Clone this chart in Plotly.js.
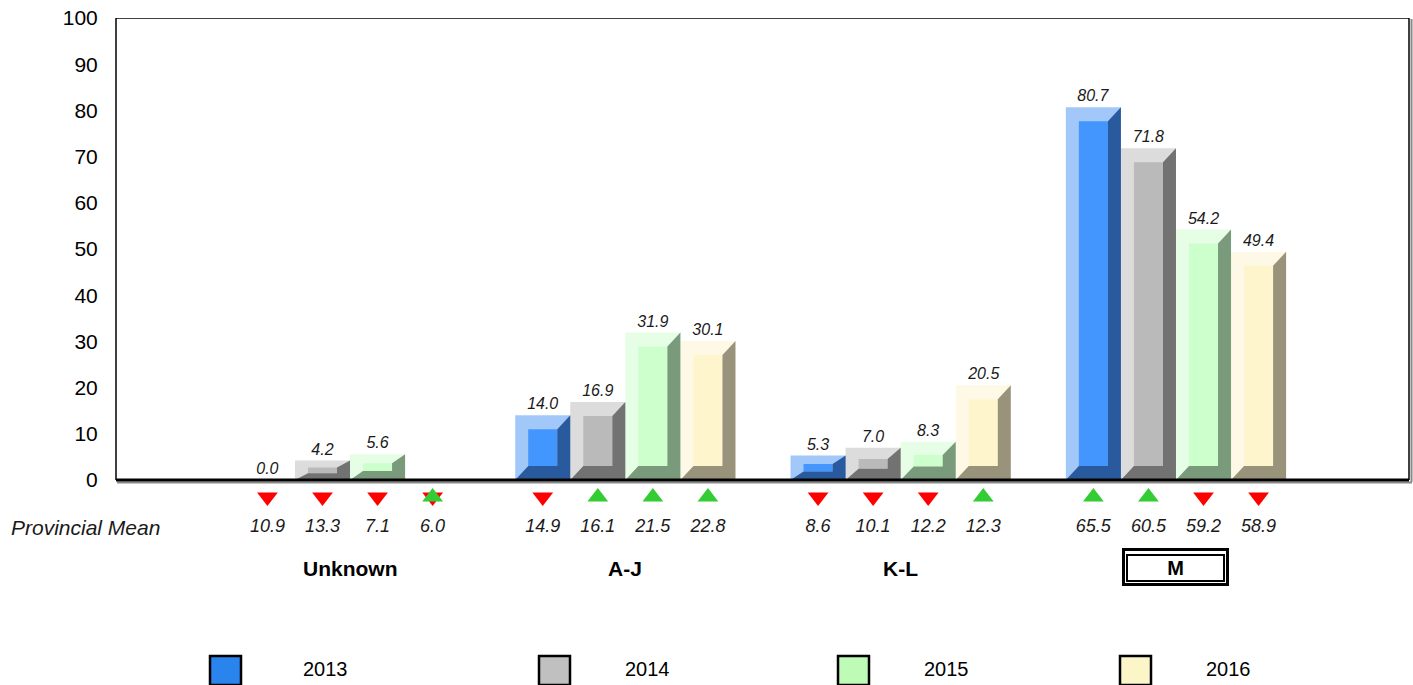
<!DOCTYPE html>
<html>
<head>
<meta charset="utf-8">
<script src="https://cdn.plot.ly/plotly-3.0.1.min.js"></script>
<style>html,body{margin:0;padding:0;background:#fff}#chart{width:1413px;height:685px}</style>
</head>
<body>
<div id="chart"></div>
<script>
// ---------------- DATA ----------------
const categories = ['Unknown', 'A-J', 'K-L', 'M'];
const years = ['2013', '2014', '2015', '2016'];
const v2013 = [0.0, 14.0, 5.3, 80.7];
const v2014 = [4.2, 16.9, 7.0, 71.8];
const v2015 = [5.6, 31.9, 8.3, 54.2];
const v2016 = [null, 30.1, 20.5, 49.4];
const mean2013 = [10.9, 14.9, 8.6, 65.5];
const mean2014 = [13.3, 16.1, 10.1, 60.5];
const mean2015 = [7.1, 21.5, 12.2, 59.2];
const mean2016 = [6.0, 22.8, 12.3, 58.9];
const trend2013 = ['down', 'down', 'down', 'up'];
const trend2014 = ['down', 'up', 'down', 'up'];
const trend2015 = ['down', 'up', 'down', 'down'];
const trend2016 = ['both', 'up', 'up', 'down'];
const yTicks = [0, 10, 20, 30, 40, 50, 60, 70, 80, 90, 100];
const meanLabel = 'Provincial Mean';
const highlighted = 'M';

// ---------------- STYLE ----------------
const values = [v2013, v2014, v2015, v2016];
const means = [mean2013, mean2014, mean2015, mean2016];
const trends = [trend2013, trend2014, trend2015, trend2016];
const outerCol = ['#a2c8fa', '#dcdcdc', '#e6fde6', '#fef9e6'];
const innerCol = ['#4496ff', '#bababa', '#ccffcc', '#fff5cc'];
const darkCol  = ['#2a5a9e', '#727272', '#7a9a7c', '#9a937b'];
const legendCol = ['#2a84ee', '#c0c0c0', '#bdfbb6', '#fbf5c8'];
const FONT = 'Liberation Sans, Arial, sans-serif';

const W = 1413, H = 685;
const L = 116, R = 3, T = 18, B = 0;
const axisPy = 480;                 // pixel row of value 0
const plotW = W - L - R, plotH = H - T - B;
const pxPerY = (axisPy - T) / 100;
const yRange = [-(H - B - axisPy) / pxPerY, 100];
const xRange = [-0.85, 3.85];
const pxPerX = plotW / (xRange[1] - xRange[0]);
const px2x = px => (px - L) / plotW;            // paper x
const dataY = py => (axisPy - py) / pxPerY;     // data y
const slot = 0.2;
const bx = 13 / pxPerX;
const byMax = 14 / pxPerY;
const centerOf = (s, i) => i + (s - 1.5) * slot;

const traces = [];
// base bars (outer light bevel face)
years.forEach((yr, s) => {
  traces.push({
    type: 'bar', name: yr, x: categories.map((c, i) => i), y: values[s],
    marker: {color: outerCol[s], line: {width: 0}},
    texttemplate: '%{y:.1f}', textposition: 'outside', cliponaxis: false,
    textfont: {family: FONT, size: 16, color: '#1a1a1a', style: 'italic'},
    hoverinfo: 'skip', showlegend: false
  });
});
// bevel polygons
years.forEach((yr, s) => {
  const ix = [], iy = [], dx = [], dy = [];
  values[s].forEach((v, i) => {
    if (v == null || v <= 0) return;
    const c = centerOf(s, i), l = c - slot / 2, r = c + slot / 2;
    const by = Math.min(byMax, v * 0.35);
    if (v - by > by) {
      ix.push(l + bx, r - bx, r - bx, l + bx, l + bx, null);
      iy.push(by, by, v - by, v - by, by, null);
    }
    dx.push(l, r, r, r - bx, r - bx, l + bx, l, null);
    dy.push(0, 0, v, v - by, by, by, 0, null);
  });
  traces.push({type: 'scatter', mode: 'lines', x: ix, y: iy, fill: 'toself', fillcolor: innerCol[s],
    line: {width: 0, color: innerCol[s]}, hoverinfo: 'skip', showlegend: false});
  traces.push({type: 'scatter', mode: 'lines', x: dx, y: dy, fill: 'toself', fillcolor: darkCol[s],
    line: {width: 0, color: darkCol[s]}, hoverinfo: 'skip', showlegend: false});
});
// trend triangles & mean values
const triY = dataY(497), meanY = dataY(527);
const downX = [], upX = [], mx = [], mt = [];
years.forEach((yr, s) => {
  categories.forEach((c, i) => {
    const t = trends[s][i], xc = centerOf(s, i);
    if (t === 'down' || t === 'both') downX.push(xc);
    if (t === 'up' || t === 'both') upX.push(xc);
    mx.push(xc); mt.push(means[s][i].toFixed(1));
  });
});
traces.push({type: 'scatter', mode: 'markers', x: downX, y: downX.map(() => triY),
  marker: {symbol: 'triangle-down', size: 18, color: '#ff0000', line: {width: 0}}, hoverinfo: 'skip', showlegend: false});
traces.push({type: 'scatter', mode: 'markers', x: upX, y: upX.map(() => triY),
  marker: {symbol: 'triangle-up', size: 18, color: '#33cc33', line: {width: 0}}, hoverinfo: 'skip', showlegend: false});
traces.push({type: 'scatter', mode: 'text', x: mx, y: mx.map(() => meanY), text: mt,
  textfont: {family: FONT, size: 18, color: '#1a1a1a', style: 'italic'}, hoverinfo: 'skip', showlegend: false});

// annotations & shapes
const annotations = [];
const shapes = [];
annotations.push({xref: 'paper', yref: 'y', x: px2x(9), y: meanY, xanchor: 'left', yanchor: 'middle',
  text: meanLabel, showarrow: false, font: {family: FONT, size: 21, color: '#1a1a1a', style: 'italic'}});
categories.forEach((c, i) => {
  const a = {xref: 'x', yref: 'y', x: i, y: dataY(568), xanchor: 'center', yanchor: 'middle',
    text: '<b>' + c + '</b>', showarrow: false, font: {family: FONT, size: 21, color: '#000'}};
  if (c === highlighted) {
    annotations.push({xref: 'x', yref: 'y', x: i, y: dataY(567), xanchor: 'center', yanchor: 'middle',
      text: ' ', showarrow: false, width: 101, height: 32, borderwidth: 3, bordercolor: '#000', borderpad: 0});
    a.width = 95; a.height = 24; a.borderwidth = 2; a.bordercolor = '#000'; a.borderpad = 0;
    a.font = {family: FONT, size: 20, color: '#000'};
  }
  annotations.push(a);
});
// legend
const legSqX = [210, 539, 838, 1120];
const legTxtX = [325, 647, 946, 1228];
years.forEach((yr, s) => {
  shapes.push({type: 'rect', xref: 'paper', yref: 'y', x0: px2x(legSqX[s]), x1: px2x(legSqX[s] + 31),
    y0: dataY(685), y1: dataY(656), fillcolor: legendCol[s], line: {color: '#000', width: 2.5}});
  annotations.push({xref: 'paper', yref: 'y', x: px2x(legTxtX[s]), y: dataY(669), xanchor: 'center', yanchor: 'middle',
    text: yr, showarrow: false, font: {family: FONT, size: 20, color: '#000'}});
});
// plot frame
const xEnd = px2x(1409);
shapes.push({type: 'line', xref: 'paper', yref: 'y', x0: 0, x1: xEnd, y0: 100, y1: 100, line: {color: '#000', width: 1.5}});
shapes.push({type: 'line', xref: 'paper', yref: 'y', x0: px2x(1411.5), x1: px2x(1411.5), y0: dataY(482), y1: dataY(19), line: {color: '#888', width: 2}});
shapes.push({type: 'line', xref: 'paper', yref: 'y', x0: xEnd, x1: xEnd, y0: 0, y1: 100, line: {color: '#000', width: 1.5}});
shapes.push({type: 'line', xref: 'paper', yref: 'y', x0: px2x(117), x1: px2x(1412), y0: dataY(482.5), y1: dataY(482.5), line: {color: '#888', width: 2}});
shapes.push({type: 'line', xref: 'paper', yref: 'y', x0: 0, x1: xEnd, y0: 0, y1: 0, line: {color: '#000', width: 3}});
shapes.push({type: 'line', xref: 'paper', yref: 'y', x0: 0, x1: 0, y0: 0, y1: 100, line: {color: '#000', width: 1.5}});

const layout = {
  width: W, height: H,
  margin: {l: L, r: R, t: T, b: B, pad: 0},
  paper_bgcolor: '#fff', plot_bgcolor: '#fff',
  barmode: 'group', bargap: 0.2, bargroupgap: 0,
  showlegend: false,
  font: {family: FONT, color: '#000'},
  xaxis: {range: xRange, showticklabels: false, ticks: '', showgrid: false, zeroline: false,
    showline: false, fixedrange: true},
  yaxis: {range: yRange, tickvals: yTicks, ticktext: yTicks.map(String), showgrid: false, zeroline: false,
    showline: false, ticks: 'outside', ticklen: 13, tickcolor: 'rgba(0,0,0,0)',
    tickfont: {family: FONT, size: 21, color: '#000'}, fixedrange: true},
  annotations: annotations,
  shapes: shapes
};

Plotly.newPlot('chart', traces, layout, {displayModeBar: false, staticPlot: true});
</script>
</body>
</html>
